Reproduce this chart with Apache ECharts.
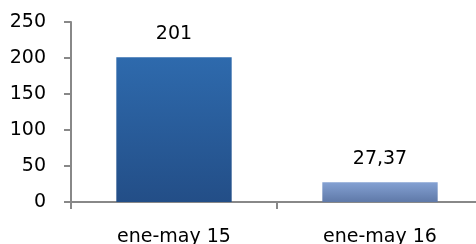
<!DOCTYPE html>
<html>
<head>
<meta charset="utf-8">
<script src="https://cdn.jsdelivr.net/npm/echarts@6/dist/echarts.min.js"></script>
<style>
  html, body { margin: 0; padding: 0; background: #fff; }
  #chart { width: 476px; height: 244px; }
</style>
</head>
<body>
<div id="chart"></div>
<script>
// datos
var categories = ['ene-may 15', 'ene-may 16']
var values = [201, 27.37]
var yTicks = { min: 0, max: 250, step: 50 }

var barColors = [
  ['#2E6AAD', '#234E87'],
  ['#84A1D3', '#5F79A8']
]

var chart = echarts.init(document.getElementById('chart'))
var fontFamily = 'DejaVu Sans'

var seriesData = values.map(function (v, i) {
  return {
    value: v,
    itemStyle: {
      color: new echarts.graphic.LinearGradient(0, 0, 0, 1, [
        { offset: 0, color: barColors[i][0] },
        { offset: 1, color: barColors[i][1] }
      ])
    }
  }
})

var option = {
  animation: false,
  grid: { left: 71, top: 22, bottom: 42, right: -7, containLabel: false, outerBoundsMode: 'none' },
  xAxis: {
    type: 'category',
    data: categories,
    axisLine: { lineStyle: { color: '#888', width: 2 } },
    axisTick: { show: true, length: 7, lineStyle: { color: '#888', width: 2 } },
    axisLabel: { margin: 26, fontSize: 19, fontFamily: fontFamily, color: '#000' }
  },
  yAxis: {
    type: 'value',
    min: yTicks.min,
    max: yTicks.max,
    interval: yTicks.step,
    axisLine: { show: true, lineStyle: { color: '#888', width: 2 } },
    axisTick: { show: true, length: 7, lineStyle: { color: '#888', width: 2 } },
    splitLine: { show: false },
    axisLabel: { margin: 25, fontSize: 19, fontFamily: fontFamily, color: '#000' }
  },
  series: [{
    type: 'bar',
    data: seriesData,
    barWidth: '56%',
    label: {
      show: true,
      position: 'top',
      distance: 14,
      fontSize: 19,
      fontFamily: fontFamily,
      color: '#000',
      formatter: function (p) { return String(p.value).replace('.', ',') }
    }
  }]
}

chart.setOption(option)
</script>
</body>
</html>
